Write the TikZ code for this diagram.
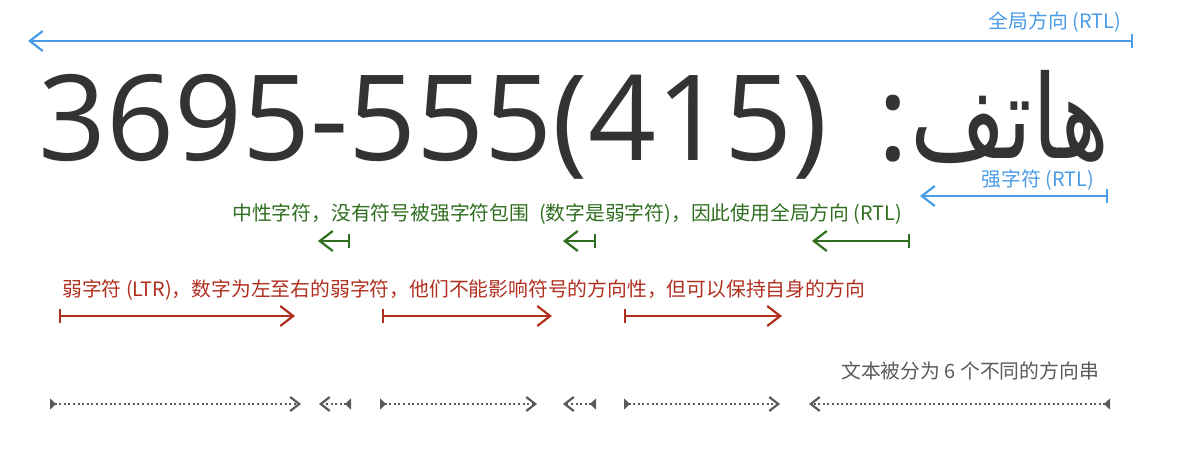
\documentclass[tikz,border=0pt]{standalone}
\usepackage{fontspec}
\usepackage{graphicx}
\usetikzlibrary{arrows.meta}
\setmainfont{Open Sans}
\newfontfamily\cjk{Noto Sans CJK SC}
\newfontfamily\arabicfont[Script=Arabic]{DejaVu Sans}
\TeXXeTstate=1
\definecolor{blueC}{RGB}{74,155,232}
\definecolor{greenC}{RGB}{46,110,30}
\definecolor{redC}{RGB}{176,48,32}
\definecolor{grayC}{RGB}{90,90,90}
\definecolor{darkC}{RGB}{51,51,51}
\tikzset{
  lbl/.style={inner sep=0pt, font=\cjk\fontsize{19.8}{22}\selectfont},
  colarrow/.style={line width=2.4pt, line cap=round,
    arrows={Bar[width=14pt,line width=2.4pt]-Straight Barb[length=13pt,width=20pt,line width=2.2pt]}},
  bluearrow/.style={colarrow, draw=blueC},
  greenarrow/.style={colarrow, draw=greenC},
  redarrow/.style={colarrow, draw=redC},
  grayarrow/.style={draw=grayC, line width=2.2pt, dash pattern=on 2pt off 2.6pt,
    arrows={Triangle[reversed,length=6pt,width=11pt]-Straight Barb[length=9pt,width=14pt,line width=2.2pt]}},
  bigtxt/.style={inner sep=0pt, text=darkC, font=\fontsize{119}{119}\selectfont},
}
\begin{document}
\begin{tikzpicture}[x=1pt,y=-1pt]
\useasboundingbox (0,0) rectangle (1200,456);
% big text
\node[bigtxt, anchor=base west] (num) at (38,160) {3695-555(415)};
\node[bigtxt, anchor=base west] (colon) at (877,160) {:};
\node[bigtxt, anchor=base east, text depth=0pt, font=\arabicfont\fontsize{116}{116}\selectfont] (ar) at (1110,158) {\scalebox{0.8}[1]{\beginR هاتف\endR}};
% blue global
\node[lbl, text=blueC, anchor=east] (glob) at (1121,22) {全局方向 (RTL)};
\coordinate (b1s) at (1133,41); \coordinate (b1e) at (28,41);
\draw[bluearrow] (b1s) -- (b1e);
% blue strong
\node[lbl, text=blueC, anchor=center] (strong) at (1038,180) {强字符 (RTL)};
\coordinate (b2s) at (1108,196); \coordinate (b2e) at (920,196);
\draw[bluearrow] (b2s) -- (b2e);
% green
\node[lbl, text=greenC, anchor=west] (neutral) at (232,214) {中性字符，没有符号被强字符包围\hspace{0.5em}(数字是弱字符)，因此使用全局方向 (RTL)};
\coordinate (g1s) at (350,241); \coordinate (g1e) at (318,241);
\coordinate (g2s) at (596,241); \coordinate (g2e) at (563,241);
\coordinate (g3s) at (910,241); \coordinate (g3e) at (812,241);
\draw[greenarrow] (g1s) -- (g1e);
\draw[greenarrow] (g2s) -- (g2e);
\draw[greenarrow] (g3s) -- (g3e);
% red
\node[lbl, text=redC, anchor=west] (weak) at (62,290) {弱字符 (LTR)，数字为左至右的弱字符，他们不能影响符号的方向性，但可以保持自身的方向};
\coordinate (r1s) at (59,316); \coordinate (r1e) at (295,316);
\coordinate (r2s) at (382,316); \coordinate (r2e) at (552,316);
\coordinate (r3s) at (624,316); \coordinate (r3e) at (782,316);
\draw[redarrow] (r1s) -- (r1e);
\draw[redarrow] (r2s) -- (r2e);
\draw[redarrow] (r3s) -- (r3e);
% gray
\node[lbl, text=grayC, anchor=east] (runs) at (1099,371) {文本被分为 6 个不同的方向串};
\coordinate (k1s) at (50,404); \coordinate (k1e) at (301,404);
\coordinate (k2s) at (351,404); \coordinate (k2e) at (319,404);
\coordinate (k3s) at (380,404); \coordinate (k3e) at (537,404);
\coordinate (k4s) at (596,404); \coordinate (k4e) at (563,404);
\coordinate (k5s) at (624,404); \coordinate (k5e) at (780,404);
\coordinate (k6s) at (1110,404); \coordinate (k6e) at (809,404);
\foreach \i in {1,...,6} {\draw[grayarrow] (k\i s) -- (k\i e);}
\end{tikzpicture}
\end{document}
